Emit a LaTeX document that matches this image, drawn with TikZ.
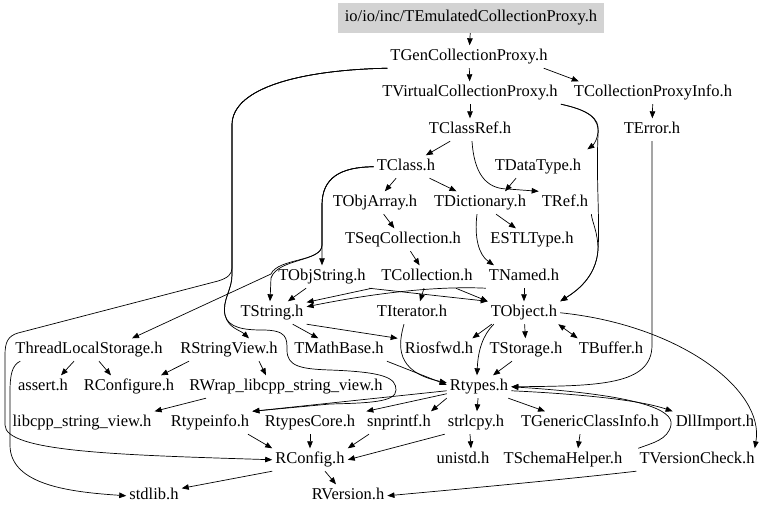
\documentclass[tikz,border=0pt]{standalone}
\usepackage{fontspec}
\setmainfont{Liberation Serif}
\usetikzlibrary{arrows.meta}
\definecolor{boxgray}{RGB}{211,211,211}
\begin{document}
\begin{tikzpicture}[x=1pt,y=-1pt,
  f/.style={font=\fontsize{16.5}{18}\selectfont, text height=11pt, text depth=3.5pt, inner xsep=3pt, inner ysep=4pt},
  t/.style={f, yshift=-1.75pt},
  a/.style={draw, line width=0.7pt, -{Triangle[length=7pt,width=5.5pt]}},
  b/.style={draw, line width=0.7pt, {Triangle[length=7pt,width=5.5pt]}-{Triangle[length=7pt,width=5.5pt]}}]
\useasboundingbox (0,0) rectangle (768,515);
\node[f, fill=boxgray, minimum width=266pt, minimum height=30pt] (e) at (471,18) {io/io/inc/TEmulatedCollectionProxy.h};
\node[t] (gcp) at (469,55) {TGenCollectionProxy.h};
\node[t] (vcp) at (470,91) {TVirtualCollectionProxy.h};
\node[t] (cpi) at (653,91) {TCollectionProxyInfo.h};
\node[t] (cref) at (470,128) {TClassRef.h};
\node[t] (terr) at (652,128) {TError.h};
\node[t] (tclass) at (406,165) {TClass.h};
\node[t] (dtype) at (538,165) {TDataType.h};
\node[t] (objarr) at (375,201) {TObjArray.h};
\node[t] (dict) at (480,201) {TDictionary.h};
\node[t] (tref) at (565,201) {TRef.h};
\node[t] (seq) at (403,238) {TSeqCollection.h};
\node[t] (estl) at (532,238) {ESTLType.h};
\node[t] (objstr) at (322,275) {TObjString.h};
\node[t] (coll) at (427,275) {TCollection.h};
\node[t] (named) at (524,275) {TNamed.h};
\node[t] (tstr) at (272,311) {TString.h};
\node[t] (iter) at (412,311) {TIterator.h};
\node[t] (tobj) at (524,311) {TObject.h};
\node[t] (tls) at (89,348) {ThreadLocalStorage.h};
\node[t] (rsv) at (229,348) {RStringView.h};
\node[t] (mathb) at (339,348) {TMathBase.h};
\node[t] (riosfwd) at (439,348) {Riosfwd.h};
\node[t] (stor) at (526,348) {TStorage.h};
\node[t] (buf) at (611,348) {TBuffer.h};
\node[t] (assert) at (43,385) {assert.h};
\node[t] (rcfg) at (129,385) {RConfigure.h};
\node[t] (rwrap) at (286,385) {RWrap\_libcpp\_string\_view.h};
\node[t] (rtypes) at (479,385) {Rtypes.h};
\node[t] (libcpp) at (82,421) {libcpp\_string\_view.h};
\node[t] (rtinfo) at (210,421) {Rtypeinfo.h};
\node[t] (rtcore) at (310,421) {RtypesCore.h};
\node[t] (snpr) at (399,421) {snprintf.h};
\node[t] (strl) at (476,421) {strlcpy.h};
\node[t] (tgci) at (590,421) {TGenericClassInfo.h};
\node[t] (dll) at (715,421) {DllImport.h};
\node[t] (rconfig) at (310,458) {RConfig.h};
\node[t] (unistd) at (463,458) {unistd.h};
\node[t] (schema) at (563,458) {TSchemaHelper.h};
\node[t] (vcheck) at (697,458) {TVersionCheck.h};
\node[t] (stdlib) at (154,494) {stdlib.h};
\node[t] (rversion) at (348,494) {RVersion.h};
% edges
\draw[a] (e) -- (gcp);
\draw[a] (gcp) -- (vcp);
\draw[a] ([xshift=-7pt]gcp.south east) -- ([xshift=8pt]cpi.north west);
\draw[a] (gcp.south west) .. controls (300,70) and (232,88) .. (232,125) -- (232,268) .. controls (232,274) and (228,278) .. (218,281) -- (18,333) .. controls (8,336) and (5,342) .. (5,355) -- (5,425) .. controls (5,452) and (120,455) .. (rconfig.west);
\draw[a] (gcp.south west) .. controls (300,70) and (232,88) .. (232,125) -- (232,275) .. controls (232,290) and (222,300) .. (225,315) .. controls (228,328) and (240,330) .. ([xshift=20pt]rsv.north);
\draw[a] (gcp.south west) .. controls (300,70) and (232,88) .. (232,125) -- (232,275) .. controls (232,290) and (222,300) .. (225,315) .. controls (228,328) and (245,330) .. (262,330) .. controls (287,330) and (287,338) .. (287,350) .. controls (287,366) and (300,369) .. (330,370) .. controls (385,372) and (396,378) .. (396,390) .. controls (396,402) and (370,403) .. (330,404) -- (rtinfo.north east);
\draw[a] (vcp) -- (cref);
\draw[a] (vcp.south east) .. controls (588,110) and (600,118) .. (598,132) .. controls (597,142) and (592,146) .. ([xshift=3pt,yshift=6pt]dtype.north east);
\draw[a] (vcp.south east) .. controls (588,110) and (600,118) .. (598,135) .. controls (596,180) and (600,220) .. (598,250) .. controls (596,278) and (575,292) .. (tobj.north east);
\draw[a] (tref.south east) .. controls (592,222) and (598,232) .. (598,250) .. controls (596,278) and (575,292) .. (tobj.north east);
\draw[a] (cpi) -- (terr);
\draw[a] (terr.south) -- (652,345) .. controls (652,385) and (600,386) .. (rtypes.east);
\draw[a] (cref) -- (tclass);
\draw[a] ([xshift=2pt]cref.south) .. controls (474,172) and (485,189) .. (508,189) -- (tref.north west);
\draw[a] ([xshift=-22pt]dtype.south) -- ([xshift=25pt]dict.north);
\draw[a] (tclass) -- (objarr);
\draw[a] (tclass) -- (dict);
\draw[a] (tclass.west) .. controls (340,167) and (322,178) .. (322,205) -- (objstr.north);
\draw[a] (tclass.west) .. controls (340,167) and (322,178) .. (322,205) -- (322,245) .. controls (322,262) and (278,258) .. (271,278) -- ([xshift=-2pt]tstr.north);
\draw[a] (tclass.west) .. controls (340,167) and (322,178) .. (322,205) -- (322,245) .. controls (322,262) and (278,258) .. (271,274) -- ([xshift=43pt]tls.north);
\draw[a] (objarr) -- (seq);
\draw[a] (dict) -- (estl);
\draw[a] ([xshift=-3pt]dict.south) .. controls (474,238) and (479,255) .. ([xshift=-30pt]named.north);
\draw[a] (seq) -- (coll);
\draw[a] (objstr) -- (tstr);
\draw[a] (objstr.south east) -- (tobj.north west);
\draw[a] ([xshift=-6pt]coll.south west) -- ([yshift=-1pt]tstr.north east);
\draw[a] ([xshift=-3pt]coll.south) -- ([xshift=8pt]iter.north);
\draw[a] ([xshift=-20pt]coll.south east) -- (tobj.north west);
\draw[a] (named.south west) .. controls (440,286) and (380,292) .. ([yshift=6pt]tstr.east);
\draw[a] (named) -- (tobj);
\draw[a] (tstr) -- (mathb);
\draw[a] (tstr.south east) -- ([xshift=-4pt]riosfwd.north west);
\draw[a] ([xshift=-8pt]iter.south) .. controls (398,345) and (395,372) .. ([yshift=4pt]rtypes.west);
\draw[a] (mathb.south east) -- ([yshift=2pt]rtypes.west);
\draw[a] ([xshift=4pt]tobj.south west) -- ([xshift=-4pt]riosfwd.north east);
\draw[a] ([xshift=6pt]tobj.south west) .. controls (483,335) and (478,350) .. ([xshift=-2pt]rtypes.north);
\draw[a] (tobj) -- (stor);
\draw[b] ([xshift=-2pt]tobj.south east) -- ([xshift=2pt]buf.north west);
\draw[a] (tobj.east) .. controls (680,325) and (765,390) .. ([xshift=-3pt]vcheck.north east);
\draw[a] ([xshift=-14pt]stor.south) -- ([xshift=14pt]rtypes.north);
\draw[a] ([xshift=-15pt]tls.south) -- ([xshift=18pt]assert.north);
\draw[a] ([xshift=10pt]tls.south) -- ([xshift=-18pt]rcfg.north);
\draw[a] ([xshift=8pt]tls.south west) .. controls (12,365) and (10,375) .. (10,392) -- (10,445) .. controls (10,485) and (70,492) .. (stdlib.west);
\draw[a] ([xshift=-40pt]rsv.south) -- ([xshift=32pt]rcfg.north);
\draw[a] ([xshift=30pt]rsv.south) -- ([xshift=-20pt]rwrap.north);
\draw[a] ([xshift=-80pt]rwrap.south) -- (libcpp.north east);
\draw[a] ([yshift=-4pt]rtypes.west) -- (rtinfo.north east);
\draw[a] ([yshift=-7pt]rtypes.west) -- ([xshift=8pt]rtcore.north east);
\draw[a] (rtypes.south west) -- ([xshift=32pt]snpr.north);
\draw[a] (rtypes) -- (strl);
\draw[a] ([xshift=-3pt]rtypes.south east) -- ([xshift=-45pt]tgci.north);
\draw[a] ([yshift=-4pt]rtypes.east) .. controls (580,394) and (640,400) .. (dll.north west);
\draw[a] ([xshift=2pt]vcheck.north west) .. controls (652,443) and (668,440) .. (671,425) .. controls (674,410) and (640,395) .. (rtypes.east);
\draw[a] ([xshift=-6pt]strl.south) -- ([xshift=8pt]unistd.north);
\draw[a] ([xshift=-10pt]tgci.south) -- ([xshift=15pt]schema.north);
\draw[a] (strl.south west) -- (rconfig.east);
\draw[a] ([xshift=-30pt]snpr.south) -- (rconfig.north east);
\draw[a] (rtcore) -- (rconfig);
\draw[a] ([xshift=38pt]rtinfo.south) -- (rconfig.north west);
\draw[a] (rconfig.south west) -- ([yshift=-4pt]stdlib.north east);
\draw[a] ([xshift=15pt]rconfig.south) -- ([xshift=-12pt]rversion.north);
\draw[a] (vcheck.south west) .. controls (560,480) and (450,490) .. (rversion.east);
\end{tikzpicture}
\end{document}
